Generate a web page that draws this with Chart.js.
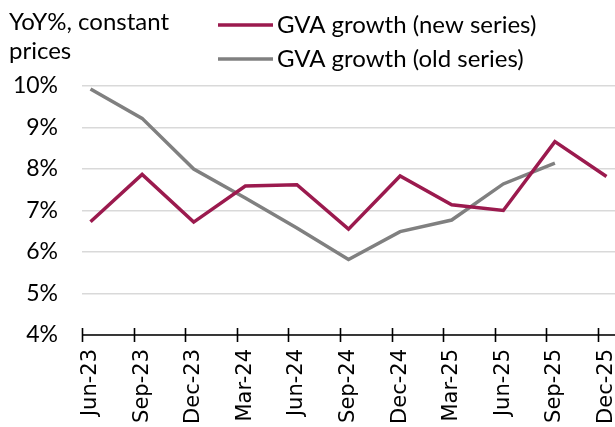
<!DOCTYPE html>
<html>
<head>
<meta charset="utf-8">
<script src="https://cdn.jsdelivr.net/npm/chart.js@4.4.1/dist/chart.umd.min.js"></script>
<style>
  html, body { margin: 0; padding: 0; background: #fff; }
</style>
</head>
<body>
<canvas id="myChart" width="615" height="427"></canvas>
<script>
// Data
const labels = ['Jun-23', 'Sep-23', 'Dec-23', 'Mar-24', 'Jun-24', 'Sep-24', 'Dec-24', 'Mar-25', 'Jun-25', 'Sep-25', 'Dec-25'];
const newSeries = [6.73, 7.87, 6.72, 7.59, 7.62, 6.55, 7.83, 7.14, 7.0, 8.66, 7.82];
const oldSeries = [9.93, 9.22, 8.0, 7.3, 6.58, 5.82, 6.49, 6.77, 7.64, 8.14, null];
const seriesNames = ['GVA growth (new series)', 'GVA growth (old series)'];
const titleLines = ['YoY%, constant', 'prices'];
const yMin = 4, yMax = 10;

const colors = ['#9b1a4e', '#808080'];
const xPad = 0.165; // half-gap excel leaves before first point

function toPoints(arr) {
  return arr.map((v, i) => ({ x: i, y: v }));
}

// title + legend drawn in the top band
const headerPlugin = {
  id: 'header',
  afterDraw(chart) {
    const ctx = chart.ctx;
    ctx.save();
    ctx.font = '24px Lato';
    ctx.fillStyle = '#000';
    ctx.textBaseline = 'alphabetic';
    ctx.fillText(titleLines[0], 9, 30);
    ctx.fillText(titleLines[1], 9, 59);
    chart.data.datasets.forEach((ds, i) => {
      const y = 25 + i * 34;
      ctx.strokeStyle = ds.borderColor;
      ctx.lineWidth = 3.5;
      ctx.beginPath();
      ctx.moveTo(218, y);
      ctx.lineTo(273, y);
      ctx.stroke();
      ctx.fillText(ds.label, 277, y + 8);
    });
    ctx.restore();
  }
};

// category axis line with tick marks between points
const axisPlugin = {
  id: 'xaxisLine',
  afterDatasetsDraw(chart) {
    const ctx = chart.ctx;
    const xs = chart.scales.x;
    const y = chart.scales.y.getPixelForValue(yMin);
    ctx.save();
    ctx.strokeStyle = '#000';
    ctx.lineWidth = 1.6;
    ctx.beginPath();
    ctx.moveTo(chart.chartArea.left, y);
    ctx.lineTo(chart.chartArea.right, y);
    for (let i = 0; i < labels.length; i++) {
      const x = Math.round(xs.getPixelForValue(i - xPad)) + 0.5;
      ctx.moveTo(x, y - 7);
      ctx.lineTo(x, y + 7);
    }
    ctx.stroke();
    ctx.restore();
  }
};

const ctx = document.getElementById('myChart').getContext('2d');
new Chart(ctx, {
  type: 'line',
  data: {
    datasets: [
      { label: seriesNames[0], data: toPoints(newSeries), borderColor: colors[0], borderWidth: 3.5, pointRadius: 0, tension: 0, fill: false },
      { label: seriesNames[1], data: toPoints(oldSeries), borderColor: colors[1], borderWidth: 3.5, pointRadius: 0, tension: 0, fill: false, spanGaps: false }
    ]
  },
  options: {
    responsive: false,
    animation: false,
    devicePixelRatio: 1,
    layout: { padding: { top: 86, left: 0, right: 0, bottom: 0 } },
    plugins: {
      legend: { display: false },
      tooltip: { enabled: false }
    },
    scales: {
      x: {
        type: 'linear',
        min: -xPad,
        max: labels.length - 1 + xPad,
        grid: { display: false, drawTicks: false },
        border: { display: false },
        afterBuildTicks(scale) {
          scale.ticks = labels.map((_, i) => ({ value: i }));
        },
        afterFit(scale) {
          scale.height = 92;
          scale.paddingLeft = 0;
          scale.paddingRight = 0;
        },
        ticks: {
          callback: (v) => labels[v],
          autoSkip: false,
          minRotation: 90,
          maxRotation: 90,
          padding: 14,
          color: '#000',
          font: { family: 'DejaVu Sans', size: 21 }
        }
      },
      y: {
        min: yMin,
        max: yMax,
        grid: { color: '#d9d9d9', lineWidth: 1.5, drawTicks: false },
        border: { display: false },
        afterFit(scale) {
          scale.width = 82;
          scale.paddingTop = 0;
          scale.paddingBottom = 0;
        },
        ticks: {
          stepSize: 1,
          callback: (v) => v + '%',
          padding: 24,
          color: '#000',
          font: { family: 'Lato', size: 23 }
        }
      }
    }
  },
  plugins: [headerPlugin, axisPlugin]
});
</script>
</body>
</html>
